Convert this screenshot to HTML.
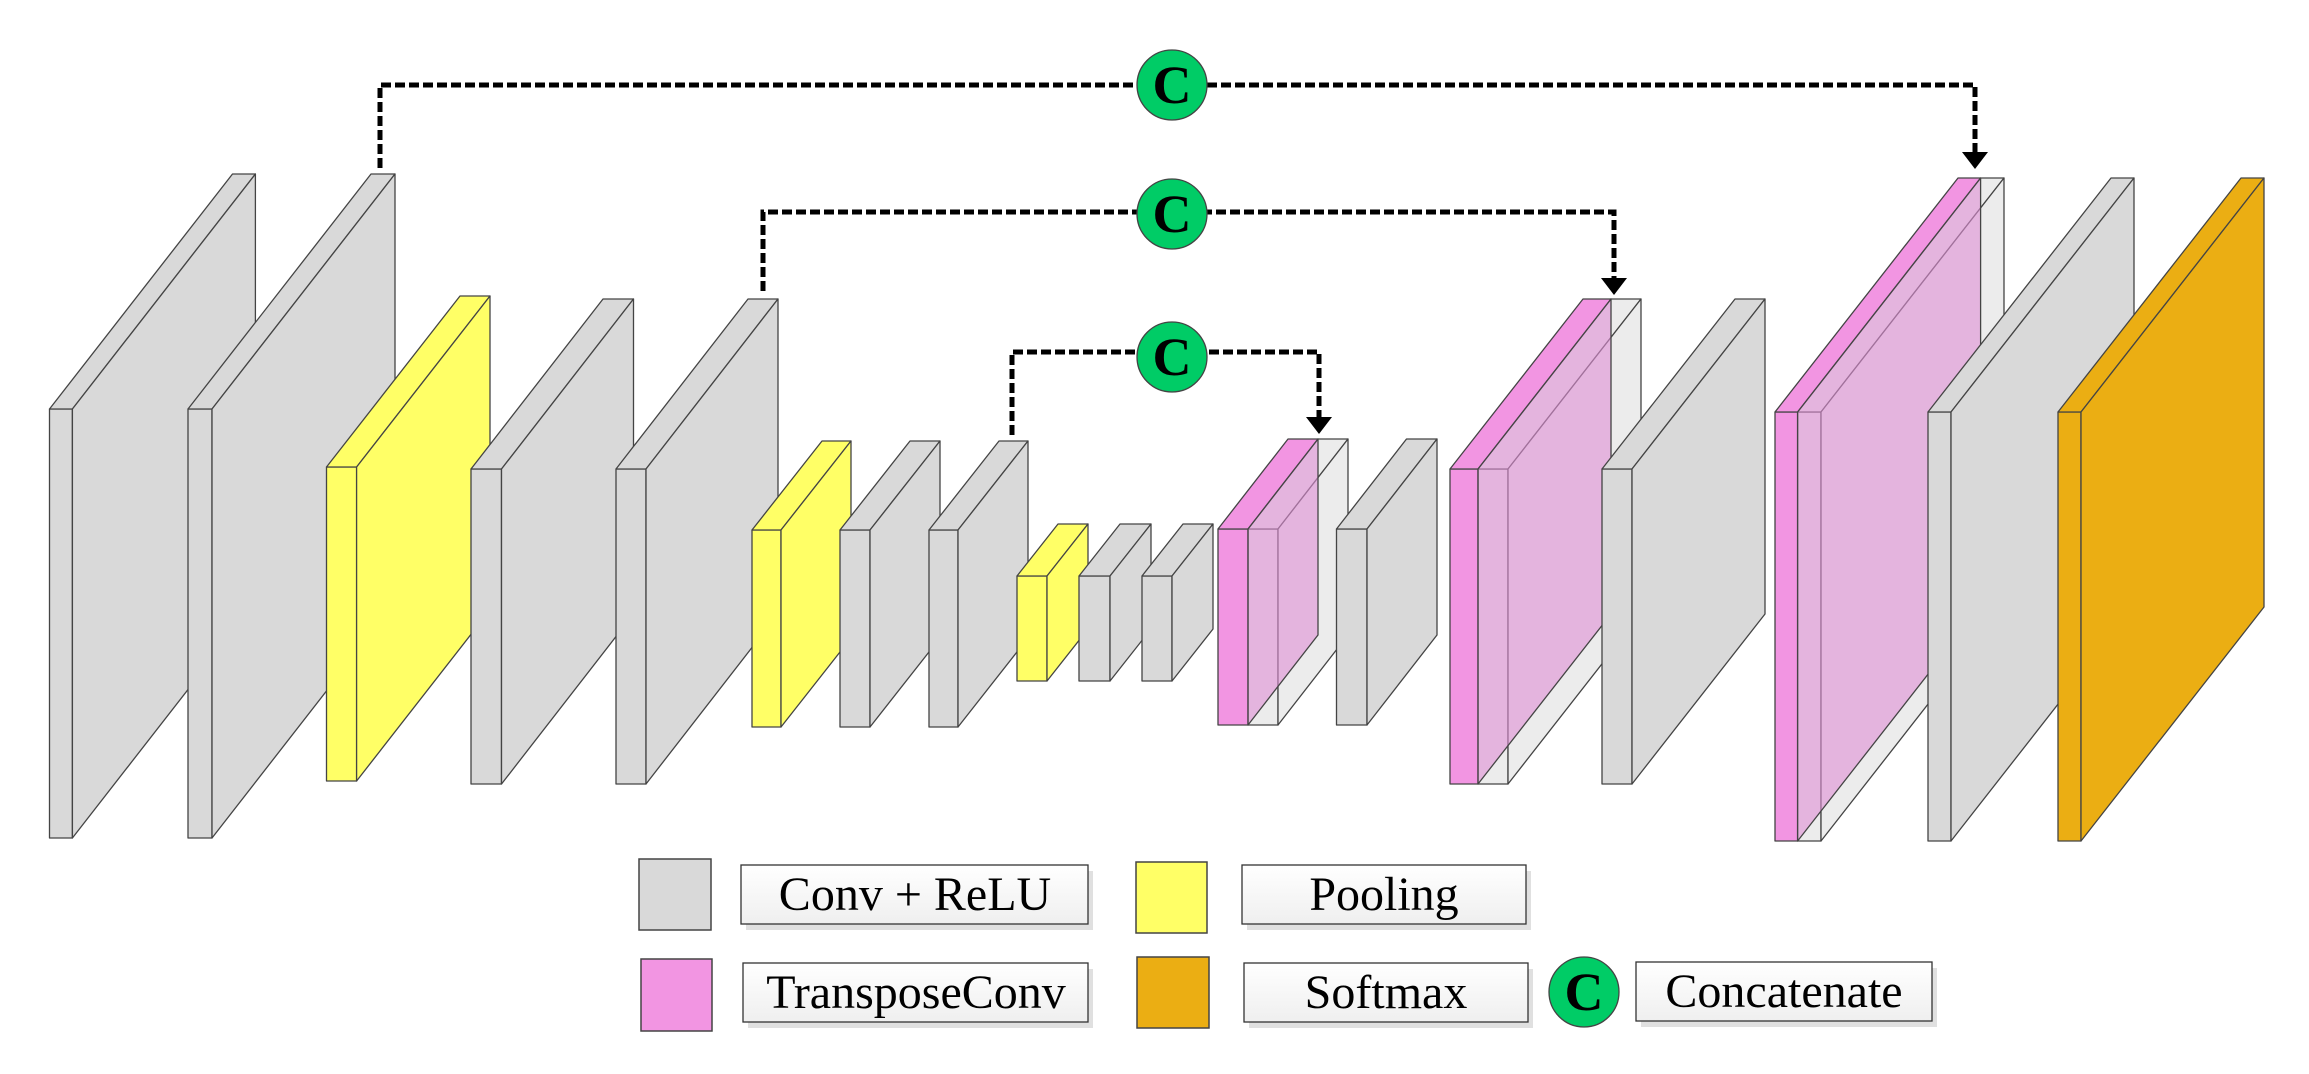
<!DOCTYPE html>
<html><head><meta charset="utf-8"><style>
html,body{margin:0;padding:0;background:#fff;}
svg{display:block;}
text{font-family:"Liberation Serif",serif;}
</style></head><body>
<svg width="2309" height="1074" viewBox="0 0 2309 1074" xmlns="http://www.w3.org/2000/svg">
<defs>
<linearGradient id="lg" x1="0" y1="0" x2="0" y2="1"><stop offset="0" stop-color="#ffffff"/><stop offset="1" stop-color="#efefef"/></linearGradient>
</defs>
<g stroke="#444" stroke-width="1.3" stroke-linejoin="round">
<g fill="#d9d9d9"><rect x="49.5" y="409" width="22.9" height="429"/><polygon points="49.5,409 232.5,174 255.4,174 72.4,409"/><polygon points="72.4,409 255.4,174 255.4,603 72.4,838"/></g>
<g fill="#d9d9d9"><rect x="188" y="409" width="24" height="429"/><polygon points="188,409 371,174 395,174 212,409"/><polygon points="212,409 395,174 395,603 212,838"/></g>
<g fill="#ffff66"><rect x="326.5" y="467" width="30.1" height="314"/><polygon points="326.5,467 460,296 490,296 356.6,467"/><polygon points="356.6,467 490,296 490,610 356.6,781"/></g>
<g fill="#d9d9d9"><rect x="471" y="469" width="30.5" height="315"/><polygon points="471,469 603,299 633.5,299 501.5,469"/><polygon points="501.5,469 633.5,299 633.5,614 501.5,784"/></g>
<g fill="#d9d9d9"><rect x="616" y="469" width="30" height="315"/><polygon points="616,469 748,299 778,299 646,469"/><polygon points="646,469 778,299 778,614 646,784"/></g>
<g fill="#ffff66"><rect x="752" y="530" width="29" height="197"/><polygon points="752,530 822,441 851,441 781,530"/><polygon points="781,530 851,441 851,638 781,727"/></g>
<g fill="#d9d9d9"><rect x="840" y="530" width="30" height="197"/><polygon points="840,530 910,441 940,441 870,530"/><polygon points="870,530 940,441 940,638 870,727"/></g>
<g fill="#d9d9d9"><rect x="929" y="530" width="29" height="197"/><polygon points="929,530 999,441 1028,441 958,530"/><polygon points="958,530 1028,441 1028,638 958,727"/></g>
<g fill="#ffff66"><rect x="1017" y="576" width="30" height="105"/><polygon points="1017,576 1058,524 1088,524 1047,576"/><polygon points="1047,576 1088,524 1088,629 1047,681"/></g>
<g fill="#d9d9d9"><rect x="1079" y="576" width="31" height="105"/><polygon points="1079,576 1120,524 1151,524 1110,576"/><polygon points="1110,576 1151,524 1151,629 1110,681"/></g>
<g fill="#d9d9d9"><rect x="1142" y="576" width="30" height="105"/><polygon points="1142,576 1183,524 1213,524 1172,576"/><polygon points="1172,576 1213,524 1213,629 1172,681"/></g>
<g fill="#ececec"><rect x="1248" y="529" width="30" height="196"/><polygon points="1248,529 1318,439 1348,439 1278,529"/><polygon points="1278,529 1348,439 1348,635 1278,725"/></g>
<g fill="#f295e2"><rect x="1218" y="529" width="30" height="196"/><polygon points="1218,529 1288,439 1318,439 1248,529"/></g>
<polygon points="1248,529 1318,439 1318,635 1248,725" fill="rgb(223,143,213)" fill-opacity="0.6"/>
<g fill="#d9d9d9"><rect x="1336.5" y="529" width="30.5" height="196"/><polygon points="1336.5,529 1406.5,439 1437,439 1367,529"/><polygon points="1367,529 1437,439 1437,635 1367,725"/></g>
<g fill="#ececec"><rect x="1478" y="469" width="30" height="315"/><polygon points="1478,469 1611,299 1641,299 1508,469"/><polygon points="1508,469 1641,299 1641,614 1508,784"/></g>
<g fill="#f295e2"><rect x="1450" y="469" width="28" height="315"/><polygon points="1450,469 1583,299 1611,299 1478,469"/></g>
<polygon points="1478,469 1611,299 1611,614 1478,784" fill="rgb(223,143,213)" fill-opacity="0.6"/>
<g fill="#d9d9d9"><rect x="1602" y="469" width="30" height="315"/><polygon points="1602,469 1735,299 1765,299 1632,469"/><polygon points="1632,469 1765,299 1765,614 1632,784"/></g>
<g fill="#ececec"><rect x="1797.6" y="412" width="23.4" height="429"/><polygon points="1797.6,412 1980.6,178 2004,178 1821,412"/><polygon points="1821,412 2004,178 2004,607 1821,841"/></g>
<g fill="#f295e2"><rect x="1775" y="412" width="22.6" height="429"/><polygon points="1775,412 1958,178 1980.6,178 1797.6,412"/></g>
<polygon points="1797.6,412 1980.6,178 1980.6,607 1797.6,841" fill="rgb(223,143,213)" fill-opacity="0.6"/>
<g fill="#d9d9d9"><rect x="1928" y="412" width="23" height="429"/><polygon points="1928,412 2111,178 2134,178 1951,412"/><polygon points="1951,412 2134,178 2134,607 1951,841"/></g>
<g fill="#ebae13"><rect x="2058" y="412" width="23" height="429"/><polygon points="2058,412 2241,178 2264,178 2081,412"/><polygon points="2081,412 2264,178 2264,607 2081,841"/></g>
</g>

<g fill="none" stroke="#000" stroke-width="5" stroke-dasharray="10 4">
<polyline points="380,168 380,85 1975,85 1975,153"/>
<polyline points="763,291 763,212 1614,212 1614,279"/>
<polyline points="1012,435 1012,352 1319,352 1319,418"/>
</g>
<g fill="#000">
<polygon points="1962,152 1988,152 1975,169"/>
<polygon points="1601,278 1627,278 1614,295"/>
<polygon points="1306,417 1332,417 1319,434"/>
</g>
<g fill="#00cc66" stroke="#444" stroke-width="1.3">
<circle cx="1172" cy="85" r="35"/>
<circle cx="1172" cy="214" r="35"/>
<circle cx="1172" cy="357" r="35"/>
</g>
<g font-weight="bold" font-size="54" text-anchor="middle" fill="#000">
<text x="1172" y="103">C</text>
<text x="1172" y="232">C</text>
<text x="1172" y="375">C</text>
</g>

<g stroke="#444" stroke-width="1.5">
<rect x="639" y="859" width="72" height="71" fill="#d9d9d9"/>
<rect x="1136" y="862" width="71" height="71" fill="#ffff66"/>
<rect x="641" y="959" width="71" height="72" fill="#f295e2"/>
<rect x="1137" y="957" width="72" height="71" fill="#ebae13"/>
</g>
<g fill="#e0e0e0">
<rect x="746" y="871" width="347" height="59"/>
<rect x="1247" y="871" width="284" height="59"/>
<rect x="748" y="969" width="345" height="59"/>
<rect x="1249" y="969" width="284" height="59"/>
<rect x="1641" y="968" width="296" height="59"/>
</g>
<g fill="url(#lg)" stroke="#333" stroke-width="1.3">
<rect x="741" y="865" width="347" height="59"/>
<rect x="1242" y="865" width="284" height="59"/>
<rect x="743" y="963" width="345" height="59"/>
<rect x="1244" y="963" width="284" height="59"/>
<rect x="1636" y="962" width="296" height="59"/>
</g>
<circle cx="1584" cy="992" r="35" fill="#00cc66" stroke="#444" stroke-width="1.3"/>
<text x="1584" y="1010" font-weight="bold" font-size="54" text-anchor="middle">C</text>
<g font-size="48" text-anchor="middle" fill="#000">
<text x="915" y="910">Conv + ReLU</text>
<text x="1384" y="910">Pooling</text>
<text x="916" y="1008">TransposeConv</text>
<text x="1386" y="1008">Softmax</text>
<text x="1784" y="1007">Concatenate</text>
</g>
</svg>
</body></html>
